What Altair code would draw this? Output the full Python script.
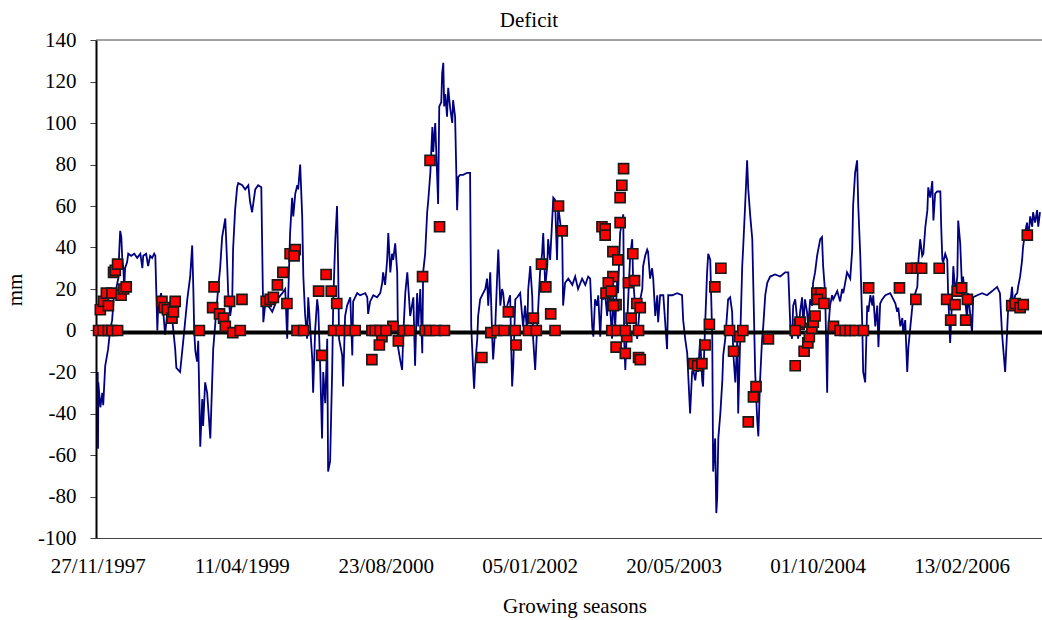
import altair as alt
import pandas as pd

START = "1997-11-27"

# Daily deficit series (days since 27/11/1997, mm)
line_points = [
    (0,-20),(1,-57),(2,-25),(9,-37),(16,-30),(19,-36),(26,-17),(36,-9),(43,0),(50,5),(57,18),(64,20),(71,25),(75,39),(78,48),(82,45),(85,35),(89,30),(92,20),(95,30),(102,33),(106,37),(116,36),(127,37),(137,35),(148,37),(155,30),(158,36),(168,37),(175,31),(182,36),(189,35),(196,37),(200,36),(207,0),(210,12),(217,16),(220,18),(227,10),(234,-2),(241,8),(252,14),(259,5),(269,-9),(273,-18),(286,-20),(297,-5),(304,5),(311,15),(321,26),(328,41),(332,20),(335,0),(339,-10),(345,-15),(349,-5),(356,-56),(363,-33),(366,-46),(373,-25),(380,-30),(391,-52),(401,-9),(418,20),(425,30),(432,45),(443,54),(450,30),(453,18),(460,7),(467,14),(470,39),(477,58),(484,69),(488,71),(502,70),(512,68),(523,70),(529,62),(536,57),(547,68),(557,70),(568,69),(575,4),(582,13),(592,12),(606,9),(623,15),(641,18),(651,20),(658,-4),(661,14),(668,47),(675,64),(679,55),(686,66),(693,70),(696,68),(703,80),(710,55),(714,26),(720,8),(727,-4),(731,16),
    (745,-14),(748,-30),(755,0),(762,15),(766,10),(773,-20),(779,-52),(783,-20),(790,-35),(797,-4),(800,-68),(807,-63),(814,-20),(818,15),(825,44),(831,60),(835,30),(838,-4),(849,-12),(852,-27),(859,7),(866,12),(877,16),(884,-12),(887,14),(901,18),(911,17),(929,18),(936,16),(939,8),(946,14),(957,17),(970,16),(981,18),(988,23),(991,28),(998,22),(1005,34),(1009,47),(1016,28),(1022,37),(1026,34),(1033,42),(1040,28),(1043,-8),(1050,-14),(1057,-19),(1061,-2),(1068,18),(1075,28),(1078,22),(1085,7),(1096,16),(1102,-17),(1109,18),(1113,2),(1120,20),(1127,-11),(1130,28),(1137,37),(1144,57),(1148,63),(1155,76),(1162,98),(1165,86),(1172,100),(1179,73),(1182,61),(1186,108),(1193,110),(1196,124),(1200,129),(1203,108),(1207,114),(1213,103),(1217,117),(1224,107),(1231,100),(1234,111),(1241,103),(1248,58),(1252,74),(1259,75),(1269,75),(1283,76),(1293,76),(1297,2),(1304,-20),(1307,-28),(1311,-16),(1318,-4),(1321,7),(1328,15),(1335,17),(1346,20),(1352,25),(1356,12),(1363,28),(1370,-4),(1373,-14),(1380,0),(1387,26),(1391,39),(1398,12),(1404,20),(1408,18),(1415,7),(1422,12),(1432,17),(1439,-27),(1443,-17),(1450,15),(1457,16),(1467,18),
    (1477,2),(1484,12),(1491,-1),(1495,20),(1502,31),(1509,16),(1512,-4),(1519,-19),(1526,2),(1530,12),(1536,28),(1543,37),(1547,47),(1554,21),(1561,31),(1564,44),(1571,34),(1578,53),(1582,64),(1588,63),(1595,34),(1599,60),(1606,52),(1613,44),(1616,12),(1623,23),(1634,25),(1648,22),(1658,26),(1668,20),(1682,25),(1693,22),(1703,26),(1710,25),(1717,2),(1721,-3),(1727,15),(1734,12),(1738,17),(1745,-3),(1752,20),(1756,15),(1762,17),(1769,7),(1773,25),(1779,12),(1786,-4),(1790,17),(1797,2),(1804,25),(1807,18),(1814,47),(1821,53),(1825,56),(1828,-4),(1832,-19),(1838,2),(1842,15),(1849,36),(1856,44),(1859,25),(1866,12),(1873,-4),(1877,2),(1884,15),(1891,20),(1894,31),(1901,36),(1908,39),(1911,38),(1918,25),(1925,30),(1929,25),(1936,7),(1943,17),(1946,4),(1953,17),(1964,17),(1977,-9),(1981,17),(1995,17),(2012,18),(2029,17),(2033,5),(2040,-4),(2047,-11),(2050,-20),(2057,-40),(2064,-20),(2068,-19),(2075,-24),(2082,-15),(2085,-20),(2092,-4),(2099,-24),(2102,-27),(2109,2),(2116,28),(2120,37),(2127,34),(2134,-4),(2137,-68),(2144,-52),(2148,-88),(2151,-81),(2155,-52),(2162,-40),(2169,-24),(2172,-12),(2179,-4),(2186,9),(2189,15),(2196,16),(2203,9),(2207,-11),(2214,-25),(2221,-4),(2224,-40),(2231,-4),(2238,31),(2241,39),(2248,60),(2255,82),(2259,68),(2266,55),(2273,44),(2276,25),(2283,-20),(2290,-43),(2294,-51),(2300,-24),(2307,-4),(2311,2),(2318,17),(2325,23),(2335,26),(2352,27),(2370,26),(2387,28),(2398,28),
    (2405,2),(2411,-4),(2415,12),(2422,15),(2429,5),(2432,-4),(2439,9),(2446,16),(2450,2),(2456,15),(2463,9),(2467,2),(2474,15),(2481,12),(2484,23),(2491,28),(2498,36),(2502,39),(2509,44),(2515,45),(2519,31),(2526,18),(2533,-30),(2536,-1),(2543,12),(2550,17),(2554,15),(2568,19),(2578,14),(2585,20),(2589,18),(2602,28),(2613,25),(2620,39),(2623,60),(2630,76),(2637,82),(2641,60),(2648,36),(2655,2),(2658,-20),(2665,-25),(2672,12),(2676,9),(2683,17),(2690,12),(2693,17),(2700,2),(2707,12),(2711,-8),(2717,13),(2724,15),(2735,17),(2752,18),(2770,13),(2776,9),(2780,11),(2787,2),(2794,6),(2797,-1),(2804,5),(2811,-20),(2815,-8),(2822,2),(2829,12),(2832,15),(2839,18),(2846,21),(2850,34),(2856,44),(2863,36),(2867,37),(2874,50),(2881,58),(2884,69),(2891,64),(2898,72),(2902,53),(2908,66),(2915,67),(2926,67),(2929,50),(2933,34),(2936,33),(2943,37),(2950,34),(2953,18),(2960,-6),(2967,15),(2971,31),(2978,18),(2985,26),(2988,53),(2995,42),(3002,18),(3005,26),(3012,15),(3019,5),(3022,18),(3029,9),(3036,-1),(3040,16),(3054,17),(3071,18),(3088,17),(3106,19),(3123,21),(3133,18),(3140,-1),(3144,-8),(3151,-20),(3158,0),(3161,9),(3168,12),(3175,21),(3179,12),(3186,17),(3193,18),(3196,21),(3203,26),(3210,34),(3213,40),(3220,47),(3227,52),(3231,44),(3238,55),(3245,50),(3248,57),(3255,52),(3262,58),(3266,50),(3272,57),
]

# Observed points at zero deficit (days since 27/11/1997)
zero_days = [3,18,37,49,69,353,495,692,715,819,844,874,894,952,963,981,1001,1062,1083,1137,1152,1175,1204,
             1386,1411,1450,1496,1523,1588,1785,1803,1832,1878,2194,2240,2422,2578,2595,2613,2630,2659]

# Other observed points (days, mm)
square_points = [
    (9,10),(20,14),(37,12),(30,18),(49,18),(55,28),(61,29),(69,32),(81,17),(90,20),(99,21),
    (223,14),(231,11),(242,10),(258,6),(263,9),(269,14),
    (399,11),(404,21),(423,8),(437,6),(443,2),(469,-1),(458,14),(501,15),
    (585,14),(599,15),(610,16),(624,22),(643,28),(657,13),(668,37),(686,39),(682,36),
    (767,19),(793,27),(811,19),(830,13),(778,-12),
    (1025,2),(987,-3),(978,-7),(952,-14),(1044,-5),
    (1128,26),(1154,82),(1187,50),
    (1334,-13),(1365,-1),(1426,9),(1453,-7),
    (1513,6),(1541,32),(1556,21),(1573,8),(1600,60),(1613,48),
    (1751,50),(1762,49),(1762,46),(1789,38),(1806,34),(1826,78),(1820,70),(1814,64),(1814,52),(1858,37),
    (1789,26),(1773,23),(1765,18),(1783,19),(1800,12.5),(1791,12),(1843,23),(1864,24),(1872,13),(1884,11),
    (1852,6),(1837,-3),(1800,-8),(1832,-11),(1878,-13),(1884,-14),
    (2069,-16),(2083,-17),(2098,-16),(2109,-7),(2124,3),(2143,21),(2164,30),
    (2208,-10),(2229,-3),(2259,-44),(2277,-32),(2286,-27),(2329,-4),
    (2422,-17),(2436,3),(2439,4),(2453,-10),(2466,-6),(2471,-3),(2480,1),(2485,4),(2491,7),(2497,18),
    (2511,18),(2499,15),(2522,13),(2555,2),
    (2677,20.5),(2784,20.5),
    (2824,30),(2844,30),(2861,30),(2922,30),(2841,15),(2948,15),(2977,12.5),(2962,5),(2985,19),(3000,20.5),
    (3020,15),(3014,5),
    (3174,12),(3186,13),(3203,11),(3214,12.5),(3228,46),
]

tick_days = [0, 500, 1000, 1500, 2000, 2500, 3000]
y_ticks = [-100, -80, -60, -40, -20, 0, 20, 40, 60, 80, 100, 120, 140]
domain_days = [-6, 3279]

start = pd.Timestamp(START)


def to_dt(d):
    t = start + pd.Timedelta(days=d)
    return alt.DateTime(year=t.year, month=t.month, date=t.day)


line_df = pd.DataFrame(line_points, columns=["day", "mm"])
line_df["date"] = start + pd.to_timedelta(line_df["day"], unit="D")

sq_df = pd.DataFrame(square_points + [(d, 0) for d in zero_days], columns=["day", "mm"])
sq_df["date"] = start + pd.to_timedelta(sq_df["day"], unit="D")

FONT = "Liberation Serif"
FS = 21

xscale = alt.Scale(domain=[to_dt(domain_days[0]), to_dt(domain_days[1])])
yscale = alt.Scale(domain=[-100, 140], nice=False, zero=False)

xaxis = alt.Axis(values=[to_dt(d) for d in tick_days], format="%d/%m/%Y", labelFont=FONT,
                 labelFontSize=FS, labelColor="black", ticks=False, domainColor="#444",
                 domainWidth=1, labelPadding=17, grid=False, labelFlush=False,
                 labelOverlap=False, title=None)
yaxis = alt.Axis(values=y_ticks, labelExpr="datum.value < 0 ? '-' + abs(datum.value) : datum.label",
                 labelFont=FONT, labelFontSize=FS, labelColor="black",
                 domainColor="black", domainWidth=2, tickColor="#444", tickSize=6,
                 tickWidth=1, labelPadding=14, grid=False, title=None)

line = alt.Chart(line_df).mark_line(color="#000080", strokeWidth=1.8).encode(
    x=alt.X("date:T", scale=xscale, axis=xaxis, title=None),
    y=alt.Y("mm:Q", scale=yscale, axis=yaxis, title=None),
)

zero_rule = alt.Chart(pd.DataFrame({"mm": [-1]})).mark_rule(color="black", strokeWidth=4).encode(
    y=alt.Y("mm:Q", title=None)
)
top_rule = alt.Chart(pd.DataFrame({"mm": [140]})).mark_rule(color="#444", strokeWidth=1).encode(
    y=alt.Y("mm:Q", title=None)
)

squares = alt.Chart(sq_df).mark_square(size=100, fill="#FF0000", stroke="#1a1a1a",
                                       strokeWidth=1.7, opacity=1).encode(
    x=alt.X("date:T", title=None),
    y=alt.Y("mm:Q", title=None),
)

def label(txt, x, y, angle=0, baseline="alphabetic"):
    return alt.Chart(pd.DataFrame({"t": [txt]})).mark_text(
        font=FONT, fontSize=FS, color="black", align="center", baseline=baseline, angle=angle
    ).encode(x=alt.value(x), y=alt.value(y), text="t:N")

title_txt = label("Deficit", 433, -13)
xtitle_txt = label("Growing seasons", 479, 573)
ytitle_txt = label("mm", -80, 250, angle=270, baseline="middle")

chart = alt.layer(line, zero_rule, top_rule, squares, title_txt, xtitle_txt, ytitle_txt).properties(
    width=946, height=498,
    autosize=alt.AutoSizeParams(type="none"),
    padding={"left": 96, "top": 40, "right": 0, "bottom": 82},
    background="white",
).configure_view(strokeWidth=0)

chart.save("out.html", embed_options={"renderer": "svg", "actions": False})
